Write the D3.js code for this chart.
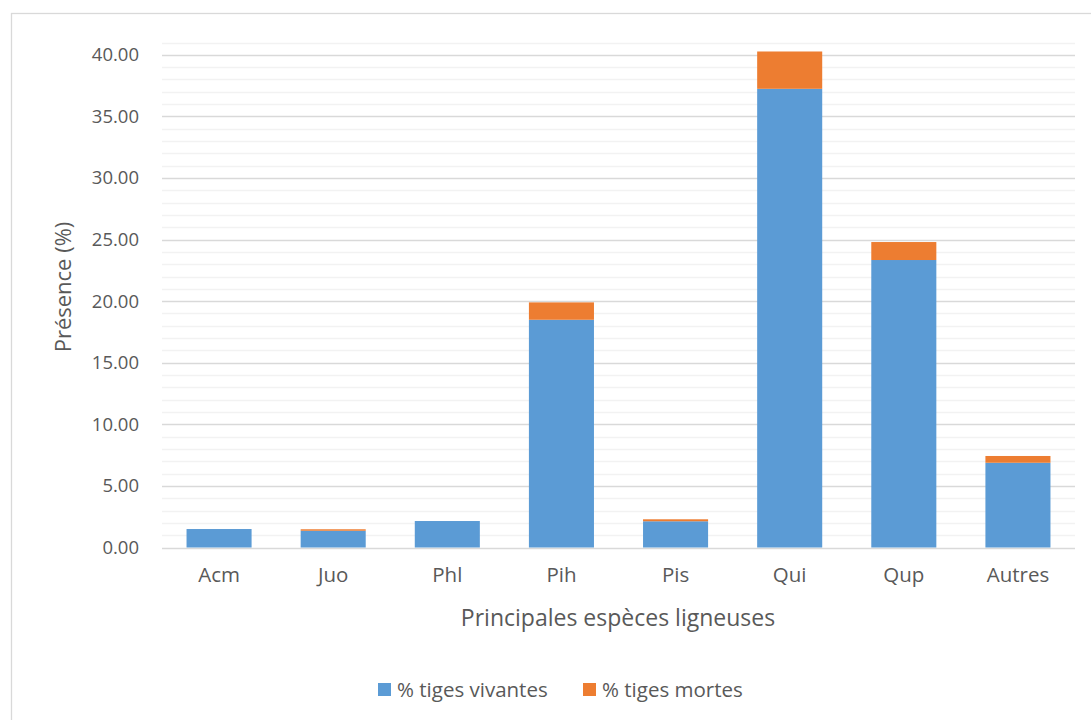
<!DOCTYPE html>
<html>
<head>
<meta charset="utf-8">
<script src="https://cdn.jsdelivr.net/npm/d3@7"></script>
<style>
  html, body { margin: 0; padding: 0; background: #fff; }
  svg { display: block; }
  text { font-family: "Open Sans", "Noto Sans", sans-serif; fill: #595959; }
</style>
</head>
<body>
<svg id="chart" width="1091" height="720"></svg>
<script>
// Species codes along the x axis
const categories = ["Acm", "Juo", "Phl", "Pih", "Pis", "Qui", "Qup", "Autres"];
// Share of living stems (%) per species
const vivantes = [1.50, 1.36, 2.15, 18.49, 2.13, 37.24, 23.34, 6.88];
// Share of dead stems (%) per species, stacked on top
const mortes = [0.00, 0.12, 0.00, 1.41, 0.16, 3.03, 1.46, 0.55];
const seriesNames = ["% tiges vivantes", "% tiges mortes"];
const seriesColors = ["#5B9BD5", "#ED7D31"];
const yTicks = [0, 5, 10, 15, 20, 25, 30, 35, 40];
const yMinorTicks = d3.range(1, 42);

const svg = d3.select("#chart");
const W = 1091, H = 720;
const plot = { left: 162, right: 1075, top: 42.5, bottom: 547.5 };

// Outer chart frame
svg.append("rect")
  .attr("x", 11.5).attr("y", 13.5)
  .attr("width", W).attr("height", H)
  .attr("fill", "none").attr("stroke", "#d9d9d9").attr("stroke-width", 1.3);

const x = d3.scaleBand().domain(categories)
  .range([plot.left, plot.right]).paddingInner(0.43).paddingOuter(0.215);
const y = d3.scaleLinear().domain([0, 41]).range([plot.bottom, plot.top]);

// Minor gridlines
svg.append("g").selectAll("line").data(yMinorTicks.filter(v => v % 5 !== 0)).join("line")
  .attr("x1", plot.left).attr("x2", plot.right)
  .attr("y1", d => Math.round(y(d)) + 0.5).attr("y2", d => Math.round(y(d)) + 0.5)
  .attr("stroke", "#f2f2f2").attr("stroke-width", 1.3);

// Major gridlines (the 0 line acts as the category axis)
svg.append("g").selectAll("line").data(yTicks).join("line")
  .attr("x1", plot.left).attr("x2", plot.right)
  .attr("y1", d => Math.round(y(d)) + 0.5).attr("y2", d => Math.round(y(d)) + 0.5)
  .attr("stroke", "#d9d9d9").attr("stroke-width", 1.3);

// Stacked bars
const rows = categories.map((c, i) => ({ cat: c, vivantes: vivantes[i], mortes: mortes[i] }));
const stack = d3.stack().keys(["vivantes", "mortes"])(rows);
svg.append("g").selectAll("g").data(stack).join("g")
  .attr("fill", (d, i) => seriesColors[i])
  .selectAll("rect").data(d => d).join("rect")
  .attr("x", d => x(d.data.cat))
  .attr("width", x.bandwidth())
  .attr("y", d => y(d[1]))
  .attr("height", d => Math.max(0, y(d[0]) - y(d[1])));

// Y axis labels
const yAxis = d3.axisLeft(y).tickValues(yTicks).tickFormat(d3.format(".2f")).tickSize(0).tickPadding(0);
svg.append("g").attr("transform", `translate(139,0)`).call(yAxis)
  .call(g => g.select(".domain").remove())
  .selectAll("text").style("font-size", "18.5px").attr("fill", "#595959")
  .style("font-family", "'Open Sans', sans-serif");

// X axis labels
const xAxis = d3.axisBottom(x).tickSize(0).tickPadding(0);
svg.append("g").attr("transform", `translate(0,567)`).call(xAxis)
  .call(g => g.select(".domain").remove())
  .selectAll("text").style("font-size", "20.5px").attr("fill", "#595959")
  .style("font-family", "'Open Sans', sans-serif");

// Axis titles
svg.append("text")
  .attr("x", 618).attr("y", 626)
  .attr("text-anchor", "middle").style("font-size", "23px")
  .text("Principales espèces ligneuses");

svg.append("text")
  .attr("transform", `translate(71,287) rotate(-90)`)
  .attr("text-anchor", "middle").style("font-size", "22px")
  .text("Présence (%)");

// Legend
const legend = svg.append("g");
const legendX = [378, 583];
seriesNames.forEach((name, i) => {
  legend.append("rect")
    .attr("x", legendX[i]).attr("y", 683)
    .attr("width", 13).attr("height", 13)
    .attr("fill", seriesColors[i]);
  legend.append("text")
    .attr("x", legendX[i] + 19).attr("y", 697)
    .style("font-size", "20.5px")
    .text(name);
});
</script>
</body>
</html>
